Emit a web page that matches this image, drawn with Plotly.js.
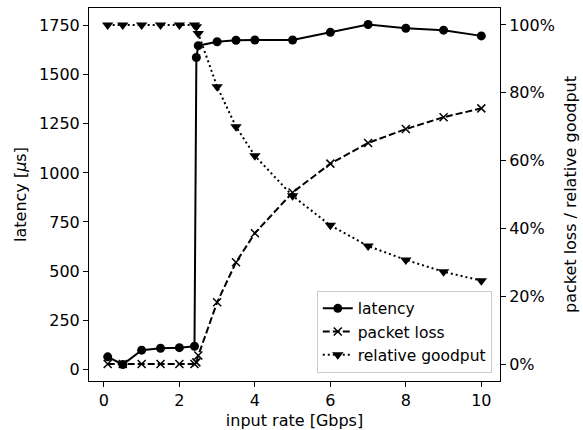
<!DOCTYPE html>
<html>
<head>
<meta charset="utf-8">
<script src="https://cdn.plot.ly/plotly-3.0.1.min.js"></script>
<style>html,body{margin:0;padding:0;background:#fff;}#chart{width:583px;height:430px;}</style>
</head>
<body>
<div id="chart"></div>
<script>
// input rate [Gbps]
const inputRate = [0.1, 0.5, 1, 1.5, 2, 2.4, 2.45, 2.5, 3, 3.5, 4, 5, 6, 7, 8, 9, 10];
// latency [µs]
const latency = [63, 24, 97, 107, 110, 117, 1588, 1648, 1668, 1676, 1677, 1677, 1716, 1756, 1737, 1727, 1698];
// packet loss [%]
const packetLoss = [0, 0, 0, 0, 0, 0, 0.5, 2.5, 18.2, 30, 38.6, 50.6, 59.1, 65.2, 69.3, 72.8, 75.4];
// relative goodput [%]
const relGoodput = [100, 100, 100, 100, 100, 100, 99.5, 97.5, 81.8, 70, 61.4, 49.6, 40.9, 34.8, 30.7, 27.2, 24.6];

const xTicks = [0, 2, 4, 6, 8, 10];
const yTicks = [0, 250, 500, 750, 1000, 1250, 1500, 1750];
const y2Ticks = [0, 20, 40, 60, 80, 100];

const FONT = 'DejaVu Sans, sans-serif';
const FS = 16;

const traces = [
  {
    x: inputRate, y: latency, name: 'latency', type: 'scatter', mode: 'lines+markers',
    line: {color: '#000', width: 2, dash: 'solid'},
    marker: {symbol: 'circle', size: 9, color: '#000'},
    yaxis: 'y'
  },
  {
    x: inputRate, y: packetLoss, name: 'packet loss', type: 'scatter', mode: 'lines+markers',
    line: {color: '#000', width: 2, dash: '7px,3px'},
    marker: {symbol: 'x-thin', size: 8, color: '#000', line: {color: '#000', width: 1.5}},
    yaxis: 'y2'
  },
  {
    x: inputRate, y: relGoodput, name: 'relative goodput', type: 'scatter', mode: 'lines+markers',
    line: {color: '#000', width: 2, dash: '2px,3px'},
    marker: {symbol: 'triangle-down', size: 10, color: '#000'},
    yaxis: 'y2'
  }
];

const layout = {
  width: 583, height: 430,
  margin: {l: 89, r: 83, t: 8, b: 49, pad: 0},
  paper_bgcolor: '#fff', plot_bgcolor: '#fff',
  font: {family: FONT, size: FS, color: '#000'},
  showlegend: true,
  legend: {
    x: 0.98, y: 0.022, xanchor: 'right', yanchor: 'bottom',
    bgcolor: 'rgba(255,255,255,0.8)', bordercolor: '#cccccc', borderwidth: 1,
    font: {family: FONT, size: FS - 0.5, color: '#000'},
    tracegroupgap: 0, itemwidth: 30
  },
  xaxis: {
    range: [-0.395, 10.495], tickvals: xTicks, ticktext: xTicks.map(String),
    showgrid: false, zeroline: false, showline: true, linecolor: '#000', linewidth: 1, mirror: true,
    ticks: 'outside', ticklen: 5, tickwidth: 1, tickcolor: '#000',
    title: {text: 'input rate [Gbps]', font: {family: FONT, size: FS}, standoff: 5}
  },
  yaxis: {
    range: [-60, 1840], tickvals: yTicks, ticktext: yTicks.map(String),
    showgrid: false, zeroline: false, showline: true, linecolor: '#000', linewidth: 1,
    ticks: 'outside', ticklen: 5, tickwidth: 1, tickcolor: '#000',
    title: {text: 'latency [<i>μ</i>s]', font: {family: FONT, size: FS}, standoff: 8}
  },
  yaxis2: {
    overlaying: 'y', side: 'right', anchor: 'x',
    range: [-5, 105], tickvals: y2Ticks, ticktext: y2Ticks.map(v => v + '%'),
    showgrid: false, zeroline: false, showline: true, linecolor: '#000', linewidth: 1,
    ticks: 'outside', ticklen: 5, tickwidth: 1, tickcolor: '#000',
    title: {text: 'packet loss / relative goodput', font: {family: FONT, size: FS}, standoff: 10}
  }
};

Plotly.newPlot('chart', traces, layout, {displayModeBar: false, staticPlot: true});
</script>
</body>
</html>
